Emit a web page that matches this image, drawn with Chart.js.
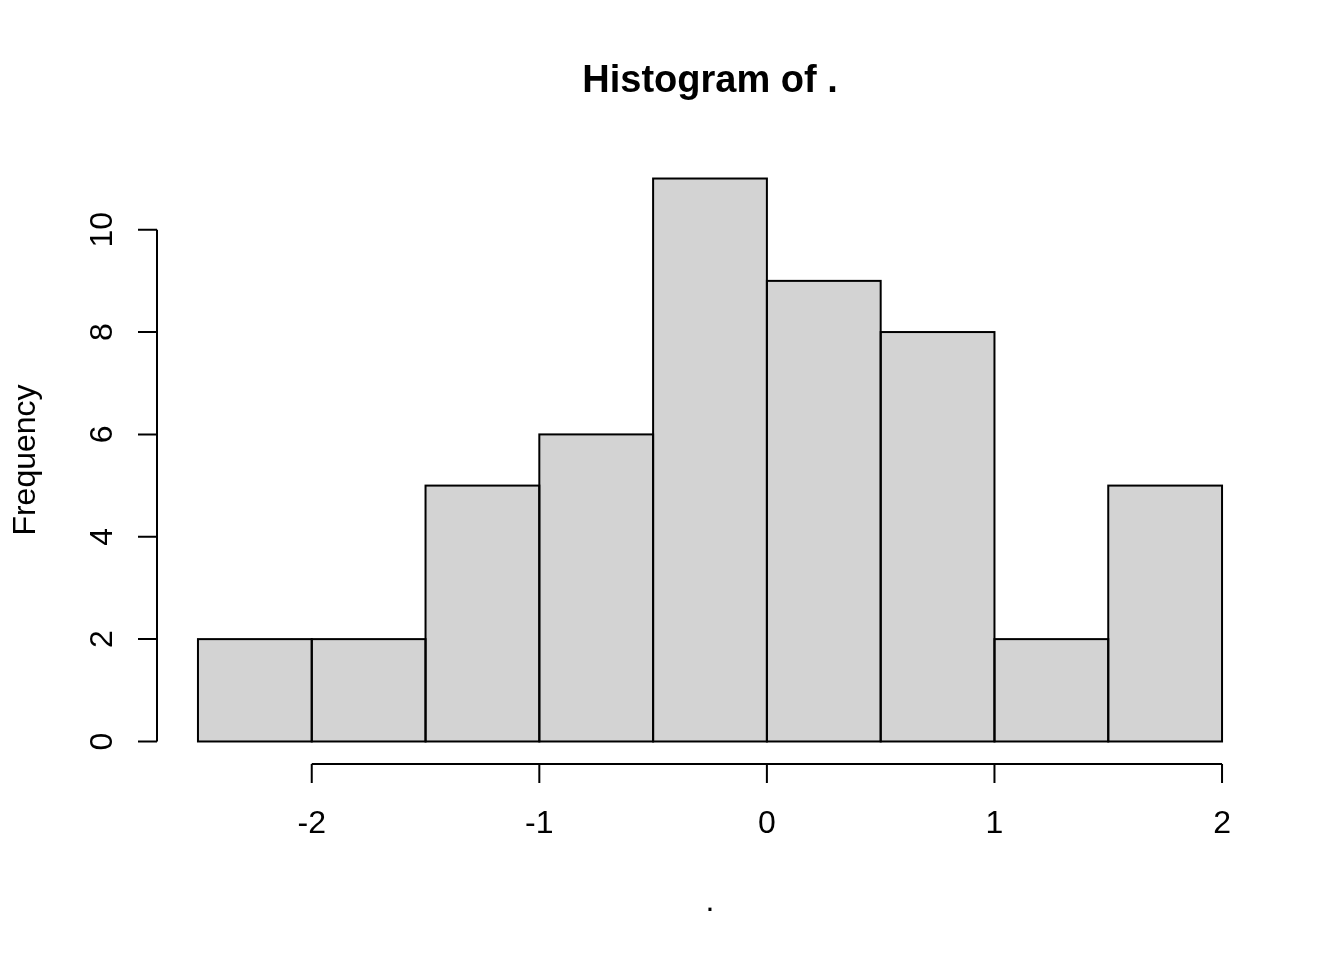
<!DOCTYPE html>
<html>
<head>
<meta charset="utf-8">
<script src="https://cdn.jsdelivr.net/npm/chart.js@4/dist/chart.umd.min.js"></script>
<style>
  html, body { margin: 0; padding: 0; background: #fff; }
  #wrap { width: 1344px; height: 960px; }
</style>
</head>
<body>
<div id="wrap"><canvas id="hist" width="1344" height="960"></canvas></div>
<script>
// histogram data
const breaks = [-2.5, -2, -1.5, -1, -0.5, 0, 0.5, 1, 1.5, 2];
const counts = [2, 2, 5, 6, 11, 9, 8, 2, 5];
const xTicks = [-2, -1, 0, 1, 2];
const yTicks = [0, 2, 4, 6, 8, 10];

const titleText = 'Histogram of .';
const xLabel = '.';
const yLabel = 'Frequency';

const FONT = '"Liberation Sans", Arial, sans-serif';

// bar centres from the breaks
const points = counts.map((c, i) => ({ x: (breaks[i] + breaks[i + 1]) / 2, y: c }));

// R-style axes, titles and bar outlines
const rBase = {
    id: 'rBase',
    afterDatasetsDraw: (chart) => {
        const ctx = chart.ctx;
        const xs = chart.scales.x;
        const ys = chart.scales.y;
        const area = chart.chartArea;
        const tick = 19;

        ctx.save();
        ctx.strokeStyle = '#000';
        ctx.fillStyle = '#000';
        ctx.lineWidth = 2;
        ctx.lineCap = 'butt';

        // bar outlines
        chart.getDatasetMeta(0).data.forEach(bar => {
            const p = bar.getProps(['x', 'y', 'base', 'width'], true);
            ctx.strokeRect(p.x - p.width / 2, p.y, p.width, p.base - p.y);
        });

        // y axis
        const yx = area.left;
        ctx.beginPath();
        ctx.moveTo(yx, ys.getPixelForValue(yTicks[0]));
        ctx.lineTo(yx, ys.getPixelForValue(yTicks[yTicks.length - 1]));
        yTicks.forEach(v => {
            const py = ys.getPixelForValue(v);
            ctx.moveTo(yx, py);
            ctx.lineTo(yx - tick, py);
        });
        ctx.stroke();

        ctx.font = '32px ' + FONT;
        ctx.textAlign = 'center';
        ctx.textBaseline = 'alphabetic';
        yTicks.forEach(v => {
            ctx.save();
            ctx.translate(yx - 45, ys.getPixelForValue(v));
            ctx.rotate(-Math.PI / 2);
            ctx.fillText(String(v), 0, 0);
            ctx.restore();
        });

        // x axis
        const xy = area.bottom;
        ctx.beginPath();
        ctx.moveTo(xs.getPixelForValue(xTicks[0]), xy);
        ctx.lineTo(xs.getPixelForValue(xTicks[xTicks.length - 1]), xy);
        xTicks.forEach(v => {
            const px = xs.getPixelForValue(v);
            ctx.moveTo(px, xy);
            ctx.lineTo(px, xy + tick);
        });
        ctx.stroke();

        xTicks.forEach(v => {
            ctx.fillText(String(v), xs.getPixelForValue(v), xy + 69);
        });

        // titles
        const cx = (area.left + area.right) / 2;
        ctx.font = 'bold 38px ' + FONT;
        ctx.fillText(titleText, cx, 92);

        ctx.font = '32px ' + FONT;
        ctx.fillText(xLabel, cx, 911);

        ctx.save();
        ctx.translate(35, (area.top + area.bottom) / 2);
        ctx.rotate(-Math.PI / 2);
        ctx.fillText(yLabel, 0, 0);
        ctx.restore();

        ctx.restore();
    }
};

new Chart(document.getElementById('hist'), {
    type: 'bar',
    data: {
        datasets: [{
            data: points,
            backgroundColor: '#d3d3d3',
            borderWidth: 0,
            barPercentage: 1,
            categoryPercentage: 1
        }]
    },
    options: {
        responsive: false,
        animation: false,
        events: [],
        layout: { padding: { left: 157, right: 81, top: 156, bottom: 196 } },
        plugins: { legend: { display: false }, tooltip: { enabled: false } },
        scales: {
            x: {
                type: 'linear',
                display: false,
                offset: false,
                grid: { offset: false },
                min: -2.68,
                max: 2.18,
                afterBuildTicks: (scale) => { scale.ticks = xTicks.map(v => ({ value: v })); }
            },
            y: {
                type: 'linear',
                display: false,
                min: -0.44,
                max: 11.44,
                afterBuildTicks: (scale) => { scale.ticks = yTicks.map(v => ({ value: v })); }
            }
        }
    },
    plugins: [rBase]
});
</script>
</body>
</html>
